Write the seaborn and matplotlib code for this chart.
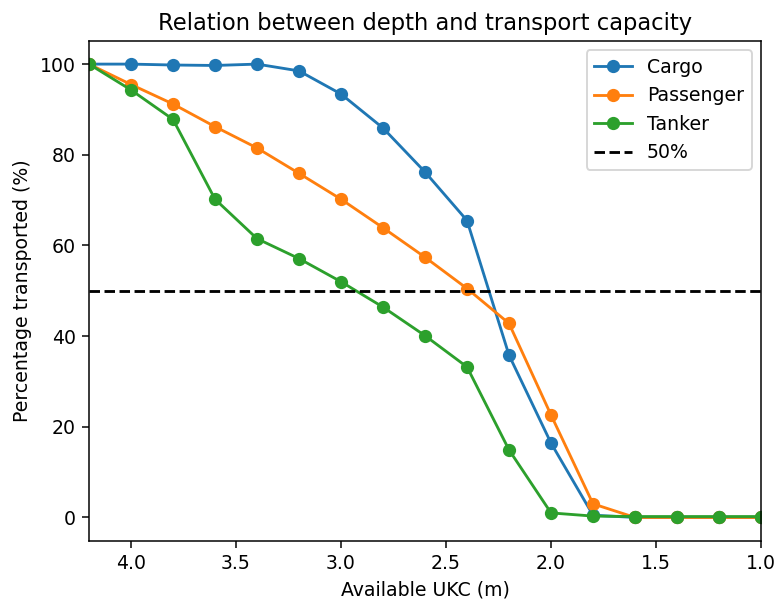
import numpy as np
import pandas as pd
import matplotlib
matplotlib.use("Agg")
import matplotlib.pyplot as plt
import seaborn as sns

# Available under-keel clearance (m)
ukc = [4.2, 4.0, 3.8, 3.6, 3.4, 3.2, 3.0, 2.8, 2.6, 2.4, 2.2, 2.0, 1.8, 1.6, 1.4, 1.2, 1.0]

cargo = [100, 100, 99.8, 99.7, 100, 98.5, 93.4, 85.9, 76.2, 65.5, 35.8, 16.4, 0.5, 0, 0, 0, 0]
passenger = [100, 95.5, 91.2, 86.2, 81.5, 75.9, 70.2, 63.9, 57.4, 50.5, 42.8, 22.6, 3.0, 0, 0, 0, 0]
tanker = [100, 94.3, 87.8, 70.2, 61.5, 57.1, 52.0, 46.4, 40.1, 33.2, 14.9, 1.0, 0.3, 0.2, 0.2, 0.2, 0.2]

series = {"Cargo": cargo, "Passenger": passenger, "Tanker": tanker}
colors = ["#1f77b4", "#ff7f0e", "#2ca02c"]

DPI = 136
fig, ax = plt.subplots(figsize=(776 / DPI, 601 / DPI), dpi=DPI)
fig.subplots_adjust(left=0.1147, right=0.9807, top=0.9318, bottom=0.0998)

for (name, vals), c in zip(series.items(), colors):
    df = pd.DataFrame({"ukc": ukc, "pct": vals})
    sns.lineplot(data=df, x="ukc", y="pct", ax=ax, color=c, marker="o",
                 markersize=6, markeredgecolor=c, markeredgewidth=1,
                 linewidth=1.5, label=name)

ax.axhline(50, color="black", linestyle="--", linewidth=1.5, label="50%")

ax.set_xlim(4.2, 1.0)
ax.set_ylim(-5.2, 105.1)
ax.set_xticks([4.0, 3.5, 3.0, 2.5, 2.0, 1.5, 1.0])
ax.set_yticks([0, 20, 40, 60, 80, 100])
ax.set_xlabel("Available UKC (m)")
ax.set_ylabel("Percentage transported (%)")
ax.set_title("Relation between depth and transport capacity")
ax.grid(False)
ax.legend(loc="upper right")

plt.savefig("out.png", dpi=DPI)
plt.close()
